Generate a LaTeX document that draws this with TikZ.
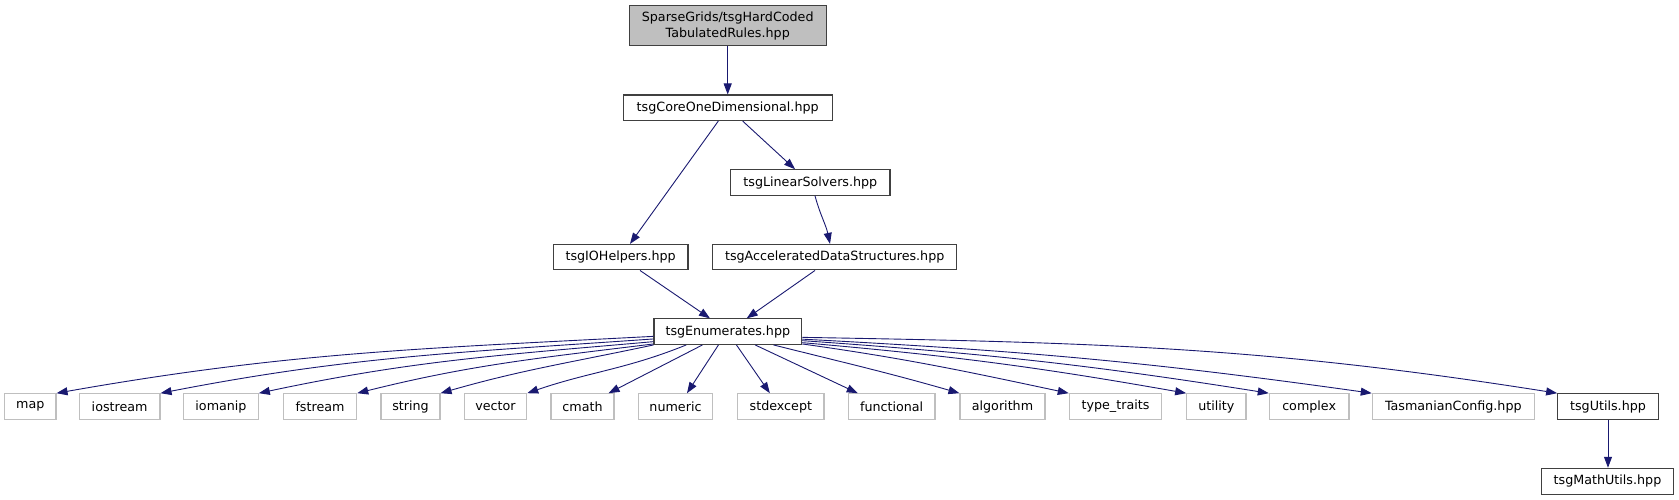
\documentclass[tikz,border=0pt]{standalone}
\usepackage{fontspec}
\setmainfont{DejaVu Sans}
\usetikzlibrary{arrows.meta,calc}
\definecolor{edgec}{HTML}{191970}
\definecolor{grayfill}{HTML}{BFBFBF}
\definecolor{dbord}{HTML}{404040}
\begin{document}
\begin{tikzpicture}[x=1pt,y=1pt,
  font=\fontsize{12.7}{16}\selectfont,
  box/.style={draw=dbord, line width=1.1pt, fill=white, inner sep=0pt, minimum height=25.5pt, text=black},
  sys/.style={draw=grayfill, line width=1.1pt, fill=white, inner sep=0pt, minimum height=25.5pt, text=black},
  dep/.style={draw=edgec, line width=0.9pt, -{Triangle[length=11pt,width=8pt]}}]
\useasboundingbox (0,0) rectangle (1679,-500);

% upper nodes
\node[box, fill=grayfill, minimum width=196.7pt, minimum height=40pt, align=center] (top) at (727.7,-25.7) {SparseGrids/tsgHardCoded\\TabulatedRules.hpp};
\node[box, minimum width=208.7pt] (core) at (727.7,-107.8) {tsgCoreOneDimensional.hpp};
\node[box, minimum width=159.3pt] (lin) at (810.35,-182.5) {tsgLinearSolvers.hpp};
\node[box, minimum width=134.7pt] (io) at (620.65,-257.15) {tsgIOHelpers.hpp};
\node[box, minimum width=244pt] (acc) at (834.7,-257.15) {tsgAcceleratedDataStructures.hpp};
\node[box, minimum width=147.7pt] (en) at (727.85,-331.65) {tsgEnumerates.hpp};

% bottom row
\node[sys, minimum width=51.3pt] (map) at (30.35,-406.5) {map};
\node[sys, minimum width=80.7pt] (iostream) at (119.65,-406.5) {iostream};
\node[sys, minimum width=74.6pt] (iomanip) at (221,-406.5) {iomanip};
\node[sys, minimum width=73.4pt] (fstream) at (320,-406.5) {fstream};
\node[sys, minimum width=59pt] (string) at (410.5,-406.5) {string};
\node[sys, minimum width=62.4pt] (vector) at (495.5,-406.5) {vector};
\node[sys, minimum width=63pt] (cmath) at (582.5,-406.5) {cmath};
\node[sys, minimum width=74.4pt] (numeric) at (675.5,-406.5) {numeric};
\node[sys, minimum width=86.3pt] (stdexcept) at (780.85,-406.5) {stdexcept};
\node[sys, minimum width=86.7pt] (functional) at (891.65,-406.5) {functional};
\node[sys, minimum width=85pt] (algorithm) at (1002.5,-406.5) {algorithm};
\node[sys, minimum width=92.4pt] (typetraits) at (1115.5,-406.5) {type\_traits};
\node[sys, minimum width=59.3pt] (utility) at (1216.35,-406.5) {utility};
\node[sys, minimum width=79.7pt] (complex) at (1309.15,-406.5) {complex};
\node[sys, minimum width=162pt] (tconf) at (1453.3,-406.5) {TasmanianConfig.hpp};
\node[box, minimum width=100.6pt] (utils) at (1608,-406.5) {tsgUtils.hpp};
\node[box, minimum width=131.6pt, minimum height=26pt] (mutils) at (1607.5,-481.3) {tsgMathUtils.hpp};

% upper edges
\draw[dep] (top.south) -- (core.north);
\draw[dep] ($(core.south)+(-9.4,0)$) -- ($(io.north)+(9.35,0)$);
\draw[dep] ($(core.south)+(15,0)$) -- ($(lin.north)+(-15.35,0)$);
\draw[dep] ($(lin.south)+(4.65,0)$) to[out=-75,in=102] ($(acc.north)+(-4.7,0)$);
\draw[dep] ($(io.south)+(19.35,0)$) -- ($(en.north)+(-17.85,0)$);
\draw[dep] ($(acc.south)+(-19.7,0)$) -- ($(en.north)+(18.85,0)$);

% fan-out from tsgEnumerates
\draw[dep] ($(en.south west)+(0,8.6)$) to[out=183,in=10] (map.north east);
\draw[dep] ($(en.south west)+(0,6)$) to[out=184,in=11] (iostream.north east);
\draw[dep] ($(en.south west)+(0,3.3)$) to[out=185,in=12] (iomanip.north east);
\draw[dep] ($(en.south west)+(0,1)$) to[out=187,in=14] (fstream.north east);
\draw[dep] (en.south west) to[out=192,in=16] (string.north east);
\draw[dep] ($(en.south west)+(32.8,0)$) to[out=202,in=19] (vector.north east);
\draw[dep] ($(en.south west)+(49,0)$) -- ($(cmath.north east)+(-6,0)$);
\draw[dep] ($(en.south west)+(65,0)$) -- ($(numeric.north)+(11.5,0)$);
\draw[dep] ($(en.south west)+(83,0)$) -- ($(stdexcept.north)+(-11,0)$);
\draw[dep] ($(en.south west)+(101.7,0)$) -- ($(functional.north west)+(10,0)$);
\draw[dep] ($(en.south west)+(120,0)$) to[out=-14,in=164] (algorithm.north west);
\draw[dep] ($(en.south east)+(0,1)$) to[out=-8,in=168] (typetraits.north west);
\draw[dep] ($(en.south east)+(0,2.3)$) to[out=-5,in=170] (utility.north west);
\draw[dep] ($(en.south east)+(0,4.3)$) to[out=-4,in=171] (complex.north west);
\draw[dep] ($(en.south east)+(0,5.8)$) to[out=-3,in=172] (tconf.north west);
\draw[dep] ($(en.south east)+(0,7.6)$) to[out=-1,in=171] (utils.north west);

\draw[dep] (utils.south) -- (utils.south |- mutils.north);
\end{tikzpicture}
\end{document}
